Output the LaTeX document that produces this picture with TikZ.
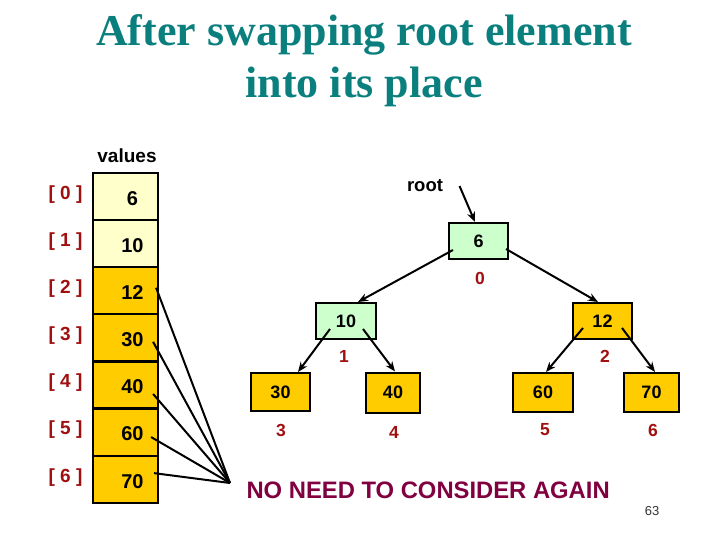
\documentclass[tikz,border=0pt]{standalone}
\usepackage{fontspec}
\setmainfont{Liberation Serif}
\newfontfamily\arial{Liberation Sans}
\usetikzlibrary{arrows.meta,calc}
\definecolor{titlecol}{HTML}{0A7F7E}
\definecolor{lightyel}{HTML}{FFFFCC}
\definecolor{gold}{HTML}{FFCC00}
\definecolor{lightgreen}{HTML}{CCFFCC}
\definecolor{idxred}{HTML}{A01010}
\definecolor{maroon}{HTML}{800040}
\tikzset{
  cell/.style={draw=black,line width=2.2pt,minimum width=65pt,minimum height=47.1pt,inner sep=0pt},
  cellnum/.style={font=\arial\bfseries\fontsize{20}{22}\selectfont},
  idx/.style={font=\arial\bfseries\fontsize{19}{21}\selectfont,text=idxred},
  tnode/.style={draw=black,line width=2pt,inner sep=0pt,font=\arial\bfseries\fontsize{18}{20}\selectfont},
  tlab/.style={font=\arial\bfseries\fontsize{17.5}{19}\selectfont,text=idxred},
  arr/.style={line width=2pt,-{Stealth[length=10pt,width=8pt]}},
  plain/.style={line width=2pt},
}
\begin{document}
\begin{tikzpicture}[x=1pt,y=-1pt]
\useasboundingbox (0,0) rectangle (720,540);
% title
\node[anchor=base,text=titlecol,font=\bfseries\fontsize{44}{50}\selectfont] (t1) at (364,46) {After swapping root element};
\node[anchor=base,text=titlecol,font=\bfseries\fontsize{44}{50}\selectfont] (t2) at (364,98) {into its place};
% array
\node[font=\arial\bfseries\fontsize{19}{21}\selectfont] (vals) at (127,156) {values};
\foreach \i/\v/\c in {0/6/lightyel,1/10/lightyel,2/12/gold,3/30/gold,4/40/gold,5/60/gold,6/70/gold}{
  \node[cell,fill=\c] (c\i) at (125.5,{196.55+47.1*\i}) {};
  \node[cellnum] (v\i) at ($(c\i.center)+(7,2)$) {\v};
  \node[idx] (i\i) at ($(c\i.center)+(-60,-2)$) {[ \i\ ]};
}
% tree
\node[font=\arial\bfseries\fontsize{18.5}{20}\selectfont] (root) at (425,186) {root};
\node[tnode,fill=lightgreen,minimum width=59pt,minimum height=36pt] (n6) at (478.5,241) {6};
\node[tnode,fill=lightgreen,minimum width=60pt,minimum height=36pt] (n10) at (346,321) {10};
\node[tnode,fill=gold,minimum width=59pt,minimum height=36pt] (n12) at (602.5,321) {12};
\node[tnode,fill=gold,minimum width=59pt,minimum height=38pt] (n30) at (280.5,392) {30};
\node[tnode,fill=gold,minimum width=54pt,minimum height=40pt] (n40) at (393,392.5) {40};
\node[tnode,fill=gold,minimum width=60pt,minimum height=39pt] (n60) at (543,392.5) {60};
\node[tnode,fill=gold,minimum width=55pt,minimum height=39pt] (n70) at (651.5,392.5) {70};
\node[tlab] (l0) at (480,278) {0};
\node[tlab] (l1) at (344,356) {1};
\node[tlab] (l2) at (605,356) {2};
\node[tlab] (l3) at (281,430) {3};
\node[tlab] (l4) at (394,432) {4};
\node[tlab] (l5) at (545,430) {5};
\node[tlab] (l6) at (653,430) {6};
\coordinate (rootstart) at ($(root.east)+(13,0)$);
\draw[arr] (rootstart) -- ($(n6.north)+(-3.5,0)$);
\draw[arr] ($(n6.center)+(-25.5,9)$) -- ($(n10.north)+(12,0)$);
\draw[arr] ($(n6.center)+(27.5,8)$) -- ($(n12.north)+(-4.5,0)$);
\draw[arr] ($(n10.center)+(-16,8)$) -- ($(n30.north)+(17.5,0)$);
\draw[arr] ($(n10.center)+(17,8)$) -- ($(n40.north)+(2,0)$);
\draw[arr] ($(n12.center)+(-19.5,7)$) -- ($(n60.north)+(3,0)$);
\draw[arr] ($(n12.center)+(19.5,7)$) -- ($(n70.north)+(3.5,0)$);
% no need
\node[anchor=west,text=maroon,font=\arial\bfseries\fontsize{23.8}{25}\selectfont] (noneed) at (243,490) {NO NEED TO CONSIDER AGAIN};
\coordinate (conv) at (230,483);
\draw[plain] ($(c2.east)+(-3,-3)$) -- (conv);
\draw[plain] ($(c3.east)+(-6,4)$) -- (conv);
\draw[plain] ($(c4.east)+(-6,9)$) -- (conv);
\draw[plain] ($(c5.east)+(-8,5)$) -- (conv);
\draw[plain] ($(c6.east)+(-5,-6)$) -- (conv);
\node[font=\arial\fontsize{13}{15}\selectfont,text=black!80] (pg) at (652,511) {63};
\end{tikzpicture}
\end{document}
